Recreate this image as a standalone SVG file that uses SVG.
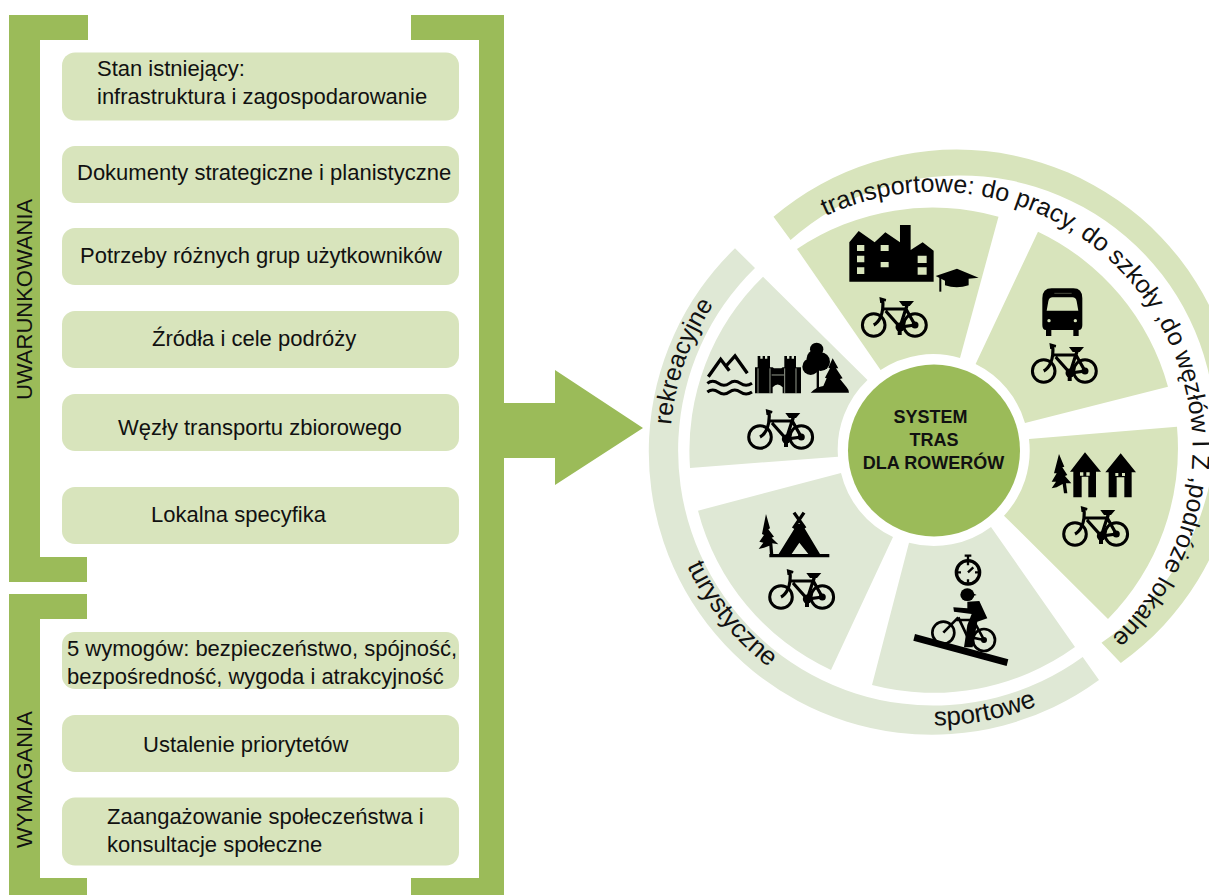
<svg xmlns="http://www.w3.org/2000/svg" xmlns:xlink="http://www.w3.org/1999/xlink" width="1209" height="895" viewBox="0 0 1209 895">
<style>
text{font-family:"Liberation Sans",Arial,sans-serif;fill:#111}
.g{fill:#9bbb59}
.box{fill:#d8e4bc}
.t{font-size:22px}
.c{font-size:18px;font-weight:bold;text-anchor:middle}
.r{font-size:25px}
.r2{font-size:26px}
.a{fill:#d8e4bc}
.b{fill:#dfe8d5}
.k{fill:#000}
.s{fill:none;stroke:#000}
</style>
<defs>
<path id="p1" d="M825.500 216A258 258 0 1 1 978.800 704"/>
<path id="p2" d="M934 725.500A275 275 0 0 0 1050 700"/>
<path id="p3" d="M687 566A273 273 0 0 0 818.600 697.400"/>
<path id="p4" d="M671 425A264 264 0 0 1 770 243"/>
<g id="bike">
<circle class="s" cx="0" cy="0" r="11.300" stroke-width="3"/>
<circle class="s" cx="41.300" cy="0" r="11.300" stroke-width="3"/>
<path class="s" stroke-width="3.200" d="M10.300 -16H32.300M12 -14L26.300 2L41.300 0L32.300 -16L34 -22M26.300 2L33 -19M9 -25Q10 -16 7 -8Q4 -2 0 0"/>
<path class="k" d="M5.700 -28L12.500 -26L12 -23.500L8 -24.500L9 -22L6.500 -22ZM25.300 -24H40.300L36 -19H29Z"/>
<circle class="k" cx="41.300" cy="0" r="3.500"/>
<circle class="k" cx="26.300" cy="2" r="4.500"/>
<rect class="k" x="24" y="3" width="4" height="7"/>
</g>
</defs>
<g id="bracket-left-top"><path class="g" d="M9 15H88V40H40V557H87V582H9Z"/></g>
<g id="bracket-left-bottom"><path class="g" d="M9 594H87V619H40V878H87V895H9Z"/></g>
<g id="bracket-right"><path class="g" d="M411 15H504V895H411V878H479V40H411Z"/></g>
<g id="label-uwarunkowania"><text class="t" transform="translate(32 400) rotate(-90)">UWARUNKOWANIA</text></g>
<g id="label-wymagania"><text class="t" transform="translate(32 848) rotate(-90)">WYMAGANIA</text></g>
<g id="n1"><rect class="box" x="62" y="52.500" width="397" height="68" rx="13"/><text class="t" x="97" y="76">Stan istniejący:</text><text class="t" x="97" y="104">infrastruktura i zagospodarowanie</text></g>
<g id="n2"><rect class="box" x="62" y="146" width="397" height="57" rx="13"/><text class="t" x="77" y="180">Dokumenty strategiczne i planistyczne</text></g>
<g id="n3"><rect class="box" x="62" y="228" width="397" height="57" rx="13"/><text class="t" x="80" y="263">Potrzeby różnych grup użytkowników</text></g>
<g id="n4"><rect class="box" x="62" y="311" width="397" height="57" rx="13"/><text class="t" x="152" y="346">Źródła i cele podróży</text></g>
<g id="n5"><rect class="box" x="62" y="394" width="397" height="57" rx="13"/><text class="t" x="118" y="435">Węzły transportu zbiorowego</text></g>
<g id="n6"><rect class="box" x="62" y="487" width="397" height="57" rx="13"/><text class="t" x="151" y="522">Lokalna specyfika</text></g>
<g id="n7"><rect class="box" x="62" y="632" width="397" height="57" rx="13"/><text class="t" x="67" y="656">5 wymogów: bezpieczeństwo, spójność,</text><text class="t" x="67" y="684">bezpośredność, wygoda i atrakcyjność</text></g>
<g id="n8"><rect class="box" x="62" y="715" width="397" height="57" rx="13"/><text class="t" x="143" y="752">Ustalenie priorytetów</text></g>
<g id="n9"><rect class="box" x="62" y="797.500" width="397" height="68" rx="13"/><text class="t" x="107" y="824">Zaangażowanie społeczeństwa i</text><text class="t" x="107" y="852">konsultacje społeczne</text></g>
<g id="connectors"><path id="arrow" class="g" d="M504 403H555V370L643 428L555 485V458H504Z"/></g>
<g id="ring-transport"><path class="a" d="M773.500 216.700A283 283 0 1 1 1120.800 663L1101.500 642.700A255 255 0 1 0 790.600 240Z"/><text class="r"><textPath href="#p1" xlink:href="#p1">transportowe: do pracy, do szkoły ,do węzłów I Z ,podróże lokalne</textPath></text></g>
<g id="ring-other"><path class="b" d="M1099 680A283 283 0 0 1 735 248.300L755 268A255 255 0 0 0 1082.700 657Z"/>
<text class="r2"><textPath href="#p2" xlink:href="#p2">sportowe</textPath></text>
<text class="r2"><textPath href="#p3" xlink:href="#p3">turystyczne</textPath></text>
<text class="r"><textPath href="#p4" xlink:href="#p4">rekreacyjne</textPath></text></g>
<g id="sector-transport-praca">
<path class="a" d="M797 249A243 243 0 0 1 998.500 216.700L960 358A95 95 0 0 0 880.600 370Z"/>
<g transform="translate(780 210) scale(.3333)">
<path class="k" d="M208 215V97L236 63L284 97L316 67L360 97V45H392V120L428 97L461 122V215Z"/>
<path class="a" d="M231 105h22v18h-22zM231 137h22v20h-22zM231 172h22v20h-22zM302 105h24v18h-24zM302 156h24v16h-24zM413 137h27v22h-27zM413 172h27v22h-27z"/>
<path class="k" d="M467 198L531 176L596 203L566 206V226Q530 238 495 226V212Z"/>
<rect class="k" x="478" y="203" width="6" height="42"/>
</g>
<use href="#bike" xlink:href="#bike" x="873.700" y="325"/>
</g>
<g id="sector-transport-wezly">
<path class="a" d="M1038 231.700A243 243 0 0 1 1168 386.700L1025 423A95 95 0 0 0 975.600 364Z"/>
<g transform="translate(1020 280) scale(.3333)">
<path class="k" d="M95 25H160Q187 25 187 55V135Q187 150 176 150V168H160V150H94V168H78V150Q67 150 67 135V55Q67 25 95 25Z"/>
<path class="a" d="M98 52H157Q168 52 170 64L175 92H80L85 64Q87 52 98 52Z"/>
<circle class="a" cx="87" cy="122" r="5"/><circle class="a" cx="166" cy="122" r="5"/>
<path d="M103 40H155" stroke="#d8e4bc" stroke-width="1"/>
</g>
<use href="#bike" xlink:href="#bike" x="1043.700" y="371"/>
</g>
<g id="sector-transport-lokalne">
<path class="a" d="M1177 426.700A243 243 0 0 1 1108 619L1004 515.700A95 95 0 0 0 1029 439Z"/>
<g transform="translate(1030 440) scale(.3333)">
<path class="k" d="M87 42L103 80L97 82L112 105L105 108L124 130L108 130L112 160H102L98 132L80 142L65 145L78 125L65 125L80 100L72 100Z"/>
<path class="k" d="M165 37L213 95H198V172H175V110H155V172H130V95H120Z"/>
<path class="k" d="M272 40L318 97H305V172H283V112H260V172H236V97H226Z"/>
<path class="a" d="M150 97h10v10h-10zM169 97h10v10h-10zM256 99h9v9h-9zM276 99h9v9h-9z"/>
</g>
<use href="#bike" xlink:href="#bike" x="1075" y="534"/>
</g>
<g id="sector-sportowe">
<path class="b" d="M991 527L1075 647A243 243 0 0 1 872 685L909 542.700A95 95 0 0 0 991 527Z"/>
<g transform="translate(890 540) scale(.3333)">
<circle class="s" cx="234" cy="97" r="35" stroke-width="10"/>
<path class="s" stroke-width="7" d="M234 50V62M224 47H244M234 97L250 82M234 66V76M234 118V128M203 97H213M255 97H265"/>
<path class="k" d="M75 282L355 358L350 378L70 302Z"/>
<circle class="s" cx="160" cy="278" r="33" stroke-width="8"/>
<circle class="s" cx="282" cy="300" r="33" stroke-width="8"/>
<path class="s" stroke-width="8" d="M195 240H250L282 300M205 232L232 290L282 300M205 232L160 278"/>
<circle class="k" cx="282" cy="300" r="9"/>
<ellipse class="k" cx="232" cy="164" rx="21" ry="19"/><path class="k" d="M240 155L260 165L240 170Z"/>
<path class="k" d="M232 185L268 183L292 235L262 245L248 322H222L232 255L245 222L192 215L190 202L232 205Z"/>
</g>
</g>
<g id="sector-turystyczne">
<path class="b" d="M893 537L831 670A243 243 0 0 1 698 510.700L841 473A95 95 0 0 0 893 537Z"/>
<g transform="translate(740 500) scale(.3333)">
<path class="k" d="M78 42L90 85L85 88L102 110L95 113L115 133L97 130L100 165H90L88 137L72 143L56 147L70 128L58 125L72 105L66 102Z"/>
<path class="k" d="M88 162H268V172H88Z"/>
<path class="k" d="M116 162L172 72H186L240 162H205L178 128L155 162Z"/>
<path class="s" stroke-width="10" d="M162 38L195 85M192 38L160 85"/>
</g>
<use href="#bike" xlink:href="#bike" x="781" y="597"/>
</g>
<g id="sector-rekreacyjne">
<path class="b" d="M838 456.700L690 468A243 243 0 0 1 763 276.700L867.500 380A95 95 0 0 0 838 456.700Z"/>
<g transform="translate(690 330) scale(.3333)">
<path class="s" stroke-width="10" d="M55 140L92 88L118 122M108 108L135 78L172 130"/>
<path class="s" stroke-width="9" d="M52 160Q68 148 85 160T118 160T151 160T186 160M52 186Q68 174 85 186T118 186T151 186T186 186"/>
<path class="k" d="M203 78H211V86H218V78H225V86H232V78H240V112H248L252 115H274L278 112H283V78H291V86H298V78H305V86H312V78H318V112H333V190H278V172Q263 155 248 172V190H195V112H203Z"/>
<path d="M204 115V190M240 115V190M284 115V190M318 115V190M245 135H282" stroke="#dfe8d5" stroke-width="2"/>
<circle class="k" cx="380" cy="58" r="20"/><circle class="k" cx="362" cy="110" r="25"/><circle class="k" cx="392" cy="95" r="28"/><circle class="k" cx="375" cy="85" r="25"/><rect class="k" x="380" y="100" width="7" height="80"/>
<path class="k" d="M428 85L445 115L438 115L458 145L450 147L470 172Q477 180 477 188H362Q380 170 400 168L410 145L405 143L420 115L415 113Z"/>
</g>
<use href="#bike" xlink:href="#bike" x="760" y="437"/>
</g>
<g id="center"><circle class="g" cx="934" cy="450.500" r="86"/>
<text class="c" x="930.500" y="423">SYSTEM</text><text class="c" x="934" y="446">TRAS</text><text class="c" x="933.500" y="469">DLA ROWERÓW</text></g>
</svg>
